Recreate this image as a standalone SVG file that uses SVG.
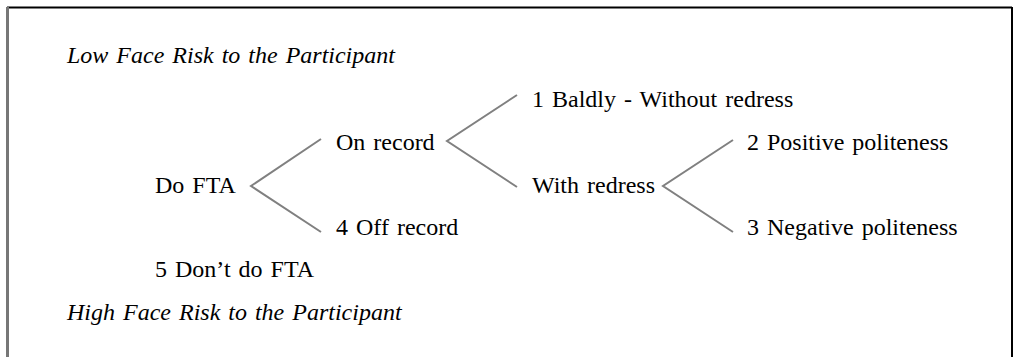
<svg xmlns="http://www.w3.org/2000/svg" width="1020" height="357" viewBox="0 0 1020 357">
<style>
text{font-family:"Liberation Serif","Times New Roman",serif;font-size:24px;fill:#000;word-spacing:2px}
.it{font-style:italic}
.ln{stroke:#808080;stroke-width:2;fill:none}
</style>
<rect width="1020" height="357" fill="#fff"/>
<g id="frame">
<line x1="7" y1="7.5" x2="1012" y2="7.5" stroke="#000" stroke-width="2"/>
<line x1="7.5" y1="7" x2="7.5" y2="357" stroke="#777" stroke-width="3"/>
<line x1="1012" y1="7" x2="1012" y2="357" stroke="#000" stroke-width="2"/>
</g>
<g id="connectors">
<polyline class="ln" points="321,139 251,186 321,232"/>
<polyline class="ln" points="517,95 447,141 517,187"/>
<polyline class="ln" points="733,140 663,186 733,232"/>
</g>
<g id="low"><text class="it" x="67" y="63">Low Face Risk to the Participant</text></g>
<g id="baldly"><text x="532" y="107">1 Baldly - Without redress</text></g>
<g id="onrecord"><text x="336" y="150">On record</text></g>
<g id="positive"><text x="747" y="150">2 Positive politeness</text></g>
<g id="dofta"><text x="155" y="193">Do FTA</text></g>
<g id="withredress"><text x="532" y="193">With redress</text></g>
<g id="offrecord"><text x="336" y="235">4 Off record</text></g>
<g id="negative"><text x="747" y="235">3 Negative politeness</text></g>
<g id="dontdo"><text x="155" y="277">5 Don’t do FTA</text></g>
<g id="high"><text class="it" x="67" y="320">High Face Risk to the Participant</text></g>
</svg>
